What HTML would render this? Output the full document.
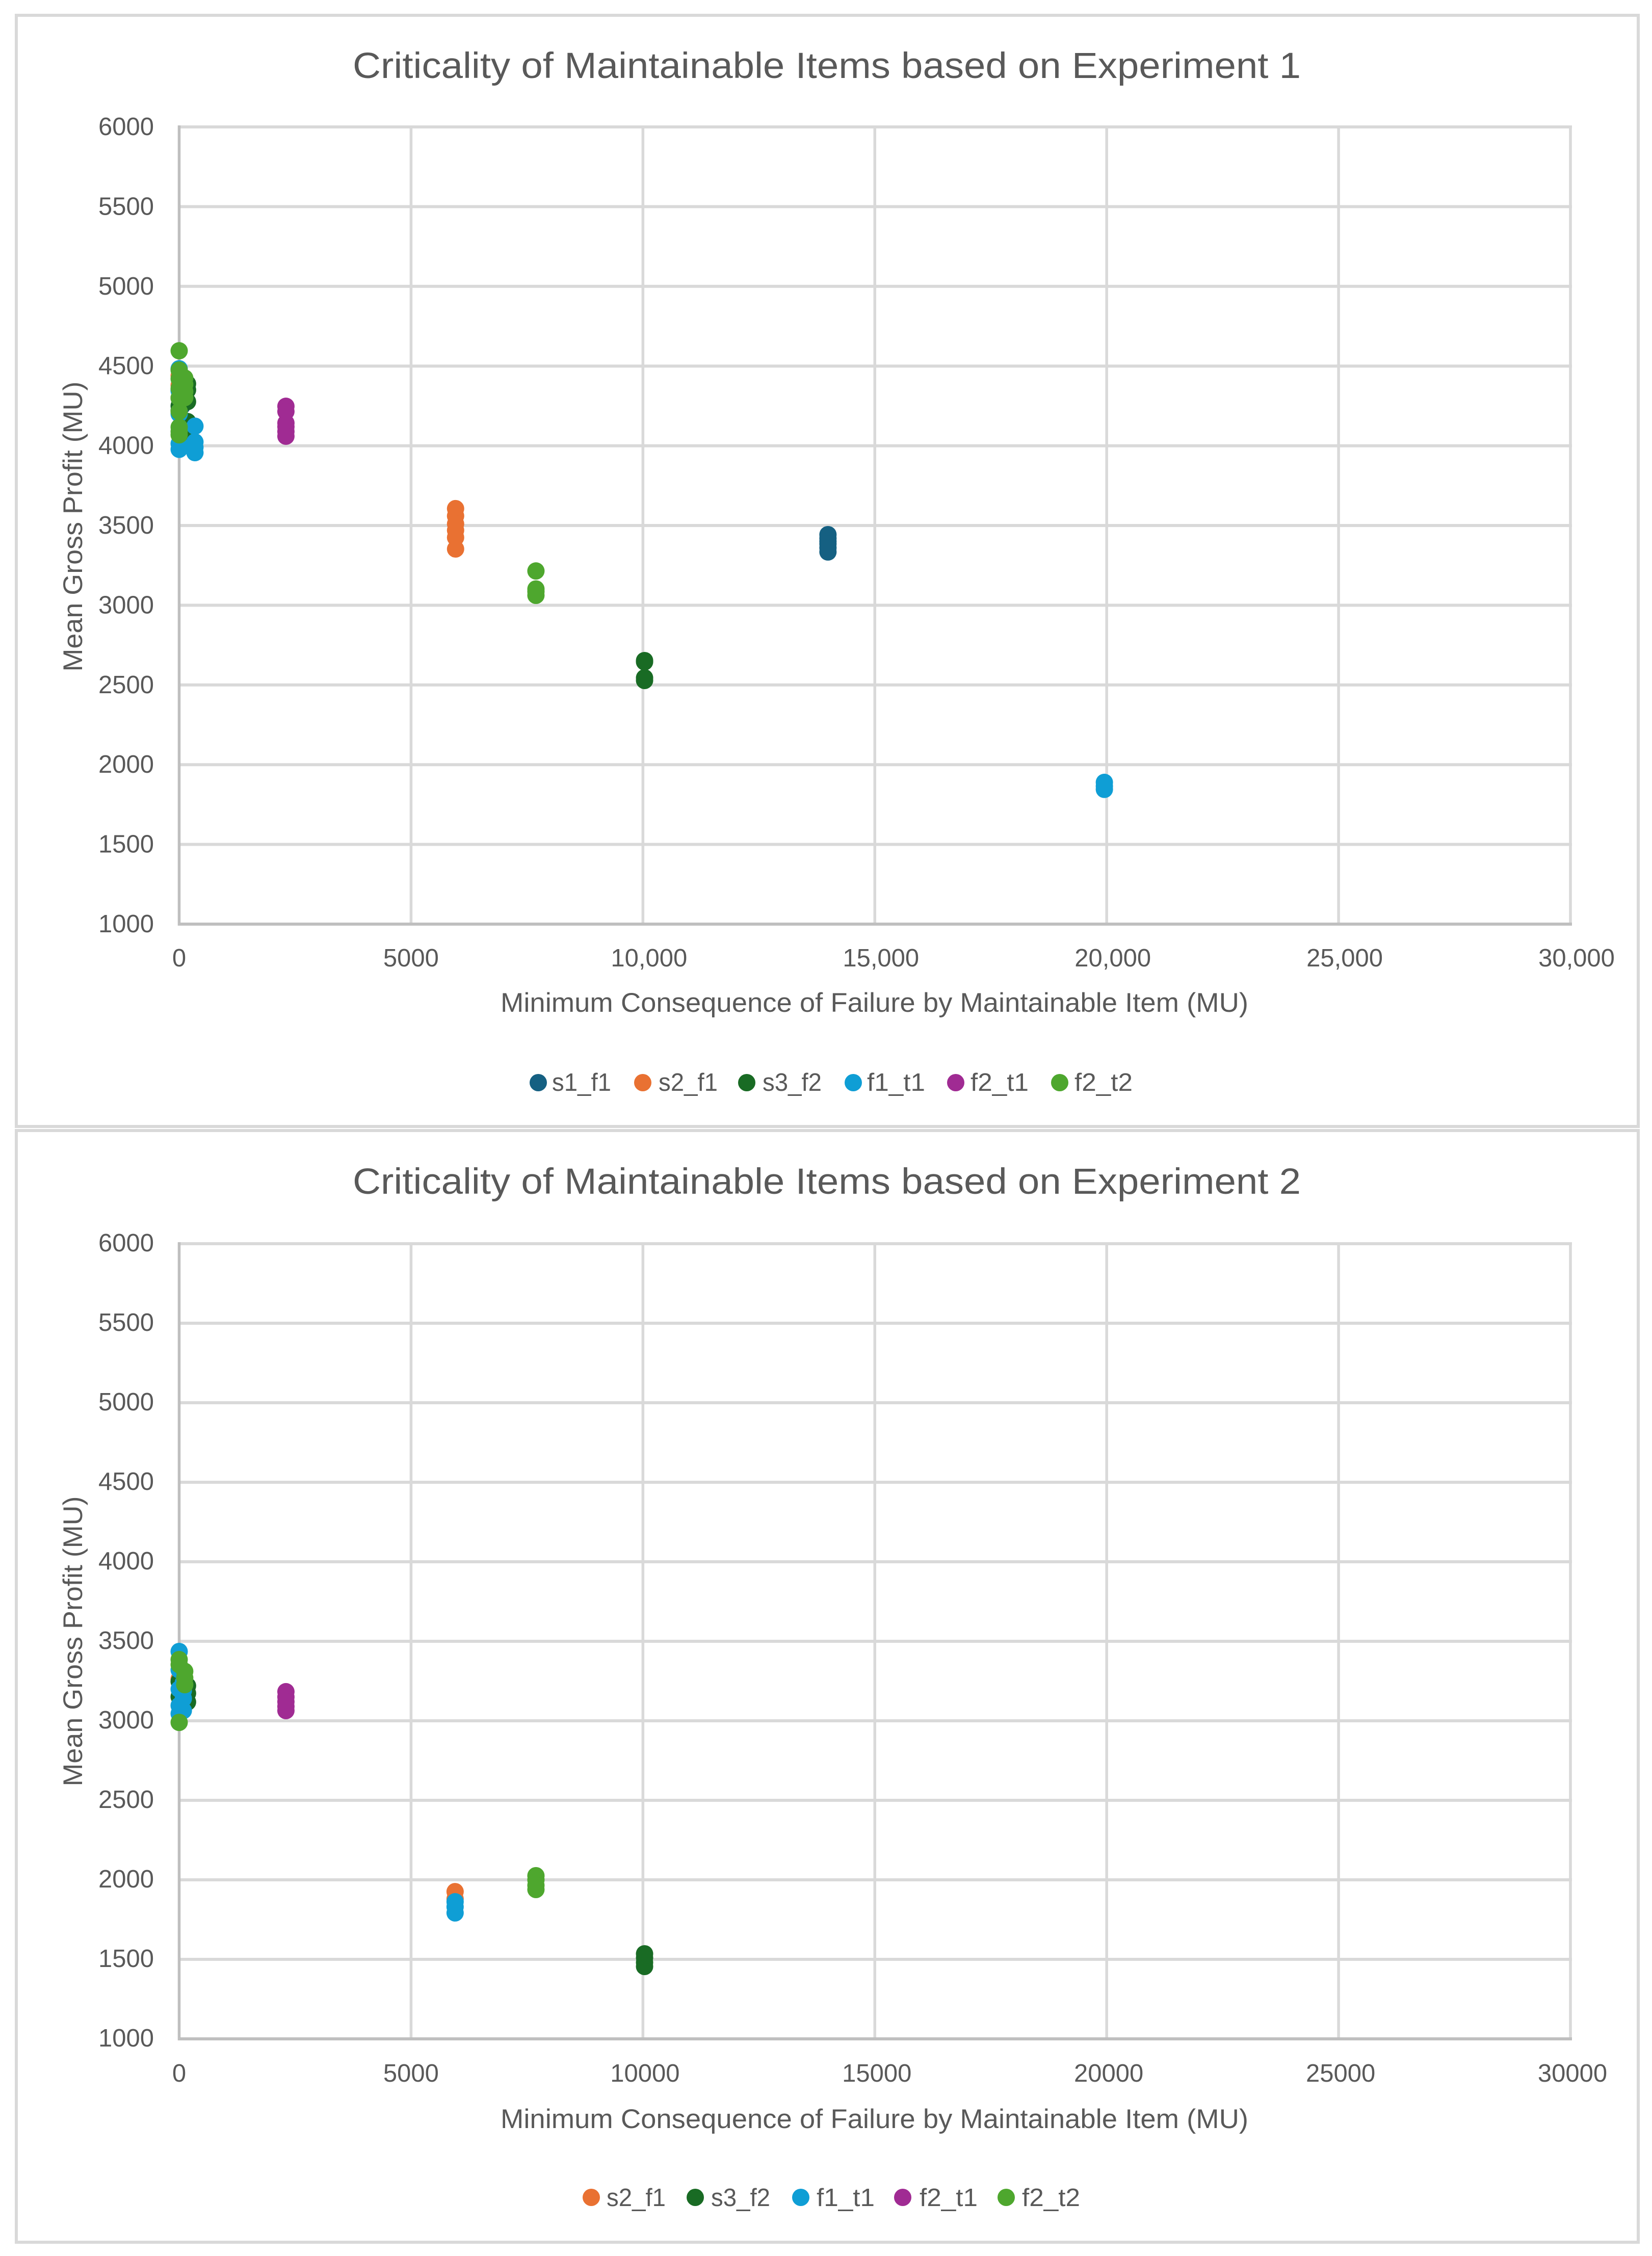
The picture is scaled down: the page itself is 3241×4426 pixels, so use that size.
<!DOCTYPE html>
<html lang="en">
<head>
<meta charset="utf-8">
<title>Criticality of Maintainable Items</title>
<style>
html,body{margin:0;padding:0;background:#fff;}
svg{display:block;}
text{font-family:"Liberation Sans",sans-serif;fill:#595959;}
</style>
</head>
<body>
<svg id="figure" xmlns="http://www.w3.org/2000/svg" width="3241" height="4426" viewBox="0 0 3241 4426">
  <rect x="0" y="0" width="3241" height="4426" fill="#ffffff"/>

  <rect x="32" y="30" width="3182" height="2180" fill="#ffffff" stroke="#d9d9d9" stroke-width="6"/>
  <text x="692" y="153" font-size="71" textLength="1860" lengthAdjust="spacingAndGlyphs">Criticality of Maintainable Items based on Experiment 1</text>
  <g id="chart1-grid"></g>
  <g id="chart1-ticks"></g>
  <text transform="translate(161 1033) rotate(-90)" text-anchor="middle" font-size="53" textLength="569" lengthAdjust="spacingAndGlyphs">Mean Gross Profit (MU)</text>
  <text x="982" y="1985" font-size="53" textLength="1467" lengthAdjust="spacingAndGlyphs">Minimum Consequence of Failure by Maintainable Item (MU)</text>
  <g id="chart1-marks"></g>
  <g>
    <g><circle cx="1056" cy="2124" r="17" fill="#156082"/><text x="1083" y="2140" font-size="49" textLength="116" lengthAdjust="spacingAndGlyphs">s1_f1</text></g>
    <g><circle cx="1261" cy="2124" r="17" fill="#E97132"/><text x="1292" y="2140" font-size="49" textLength="116" lengthAdjust="spacingAndGlyphs">s2_f1</text></g>
    <g><circle cx="1465" cy="2124" r="17" fill="#196B24"/><text x="1496" y="2140" font-size="49" textLength="116" lengthAdjust="spacingAndGlyphs">s3_f2</text></g>
    <g><circle cx="1674" cy="2124" r="17" fill="#0F9ED5"/><text x="1701" y="2140" font-size="49" textLength="114" lengthAdjust="spacingAndGlyphs">f1_t1</text></g>
    <g><circle cx="1875" cy="2124" r="17" fill="#A02B93"/><text x="1904" y="2140" font-size="49" textLength="114" lengthAdjust="spacingAndGlyphs">f2_t1</text></g>
    <g><circle cx="2079" cy="2124" r="17" fill="#4EA72E"/><text x="2108" y="2140" font-size="49" textLength="114" lengthAdjust="spacingAndGlyphs">f2_t2</text></g>
  </g>

  <rect x="32" y="2218" width="3182" height="2181" fill="#ffffff" stroke="#d9d9d9" stroke-width="6"/>
  <text x="692" y="2342" font-size="71" textLength="1860" lengthAdjust="spacingAndGlyphs">Criticality of Maintainable Items based on Experiment 2</text>
  <g id="chart2-grid"></g>
  <g id="chart2-ticks"></g>
  <text transform="translate(161 3220) rotate(-90)" text-anchor="middle" font-size="53" textLength="569" lengthAdjust="spacingAndGlyphs">Mean Gross Profit (MU)</text>
  <text x="982" y="4175" font-size="53" textLength="1467" lengthAdjust="spacingAndGlyphs">Minimum Consequence of Failure by Maintainable Item (MU)</text>
  <g id="chart2-marks"></g>
  <g>
    <g><circle cx="1160" cy="4311" r="17" fill="#E97132"/><text x="1190" y="4328" font-size="49" textLength="116" lengthAdjust="spacingAndGlyphs">s2_f1</text></g>
    <g><circle cx="1364" cy="4311" r="17" fill="#196B24"/><text x="1395" y="4328" font-size="49" textLength="116" lengthAdjust="spacingAndGlyphs">s3_f2</text></g>
    <g><circle cx="1571" cy="4311" r="17" fill="#0F9ED5"/><text x="1602" y="4328" font-size="49" textLength="114" lengthAdjust="spacingAndGlyphs">f1_t1</text></g>
    <g><circle cx="1771" cy="4311" r="17" fill="#A02B93"/><text x="1804" y="4328" font-size="49" textLength="114" lengthAdjust="spacingAndGlyphs">f2_t1</text></g>
    <g><circle cx="1974" cy="4311" r="17" fill="#4EA72E"/><text x="2005" y="4328" font-size="49" textLength="114" lengthAdjust="spacingAndGlyphs">f2_t2</text></g>
  </g>
</svg>

<script>
const yTickValues = [6000, 5500, 5000, 4500, 4000, 3500, 3000, 2500, 2000, 1500, 1000];
const xTickValues = [0, 5000, 10000, 15000, 20000, 25000, 30000];
const xTickLabelsChart1 = ['0', '5000', '10,000', '15,000', '20,000', '25,000', '30,000'];
const xTickLabelsChart2 = ['0', '5000', '10000', '15000', '20000', '25000', '30000'];

const exp1S1F1X = [0, 0, 60, 13990, 13990, 13990, 13990, 13990, 13990];
const exp1S1F1Y = [4350, 4300, 4250, 3443, 3420, 3400, 3385, 3360, 3334];
const exp1S2F1X = [0, 0, 0, 5960, 5960, 5960, 5960, 5960, 5960];
const exp1S2F1Y = [4440, 4380, 4300, 3606, 3560, 3510, 3470, 3425, 3353];
const exp1S3F2X = [0, 0, 100, 180, 180, 180, 180, 10035, 10035, 10035, 10035];
const exp1S3F2Y = [4250, 4220, 4080, 4152, 4389, 4350, 4277, 2653, 2645, 2545, 2528];
const exp1F1T1X = [0, 0, 0, 0, 0, 340, 340, 340, 340, 19950, 19950, 19950];
const exp1F1T1Y = [4483, 4345, 4200, 4013, 3978, 4123, 4024, 3990, 3957, 1889, 1865, 1845];
const exp1F2T1X = [2302, 2302, 2302, 2302, 2302, 2302];
const exp1F2T1Y = [4248, 4215, 4143, 4120, 4090, 4060];
const exp1F2T2X = [0, 0, 0, 0, 0, 0, 0, 0, 0, 120, 120, 120, 120, 7693, 7693, 7693, 7693];
const exp1F2T2Y = [4596, 4475, 4420, 4360, 4300, 4216, 4117, 4090, 4069, 4425, 4385, 4340, 4302, 3215, 3102, 3085, 3062];

const exp2S2F1X = [0, 5950, 5950];
const exp2S2F1Y = [3263, 1926, 1880];
const exp2S3F2X = [0, 0, 180, 180, 180, 10035, 10035, 10035, 10035];
const exp2S3F2Y = [3247, 3151, 3220, 3173, 3118, 1535, 1510, 1480, 1455];
const exp2F1T1X = [0, 0, 0, 0, 0, 90, 90, 90, 90, 5950, 5950, 5950];
const exp2F1T1Y = [3436, 3320, 3199, 3096, 3045, 3240, 3190, 3140, 3064, 1862, 1830, 1792];
const exp2F2T1X = [2302, 2302, 2302, 2302, 2302];
const exp2F2T1Y = [3183, 3150, 3120, 3090, 3064];
const exp2F2T2X = [0, 0, 0, 120, 120, 120, 7693, 7693, 7693, 7693];
const exp2F2T2Y = [3385, 3353, 2990, 3311, 3270, 3227, 2026, 2000, 1965, 1939];

const SVG_NS = 'http://www.w3.org/2000/svg';
const X_LEFT = 351.5;
const X_RIGHT = 3081;
const X_MAX = 30000;
const Y_MIN = 1000;
const Y_MAX = 6000;

function xScale(value) {
  return X_LEFT + (value / X_MAX) * (X_RIGHT - X_LEFT);
}

function yScale(value, plotTop, plotBottom) {
  return plotBottom - ((value - Y_MIN) / (Y_MAX - Y_MIN)) * (plotBottom - plotTop);
}

function drawLine(parent, x1, y1, x2, y2, color, width, name) {
  const line = document.createElementNS(SVG_NS, 'line');
  line.setAttribute('x1', x1);
  line.setAttribute('y1', y1);
  line.setAttribute('x2', x2);
  line.setAttribute('y2', y2);
  line.setAttribute('stroke', color);
  line.setAttribute('stroke-width', width);
  
  
  parent.appendChild(line);
}

function drawLabel(parent, x, y, content, anchor, name) {
  const label = document.createElementNS(SVG_NS, 'text');
  label.setAttribute('x', x);
  label.setAttribute('y', y);
  label.setAttribute('font-size', '49');
  label.setAttribute('text-anchor', anchor);
  
  
  label.textContent = content;
  parent.appendChild(label);
}

function drawAxes(prefix, plotTop, plotBottom, xLabels, xLabelY, yLabelOffset) {
  const grid = document.getElementById(prefix + '-grid');
  const ticks = document.getElementById(prefix + '-ticks');
  yTickValues.forEach(function (value) {
    const y = yScale(value, plotTop, plotBottom);
    if (value !== Y_MIN) {
      drawLine(grid, X_LEFT, y, X_RIGHT + 3, y, '#d9d9d9', 6, 'horizontal-gridline');
    }
    drawLabel(ticks, 302, y + yLabelOffset, String(value), 'end', 'y-tick-label');
  });
  xTickValues.forEach(function (value, i) {
    const x = xScale(value);
    if (value !== 0) {
      drawLine(grid, x, plotTop, x, plotBottom, '#d9d9d9', 5.5, 'vertical-gridline');
    }
    const hasComma = xLabels[i].indexOf(',') >= 0;
    const shift = hasComma ? 12 : (value >= 10000 ? 4 : 0);
    drawLabel(ticks, x + shift, xLabelY, xLabels[i], 'middle', 'x-tick-label');
  });
  drawLine(grid, X_LEFT, plotTop - 3, X_LEFT, plotBottom + 3, '#bfbfbf', 5.5, 'y-axis-line');
  drawLine(grid, X_LEFT, plotBottom, X_RIGHT + 3, plotBottom, '#bfbfbf', 6, 'x-axis-line');
}

function drawSeries(prefix, plotTop, plotBottom, xs, ys, color, name) {
  const marks = document.getElementById(prefix + '-marks');
  const group = document.createElementNS(SVG_NS, 'g');
  
  
  xs.forEach(function (xValue, i) {
    const dot = document.createElementNS(SVG_NS, 'circle');
    dot.setAttribute('cx', xScale(xValue));
    dot.setAttribute('cy', yScale(ys[i], plotTop, plotBottom));
    dot.setAttribute('r', 17);
    dot.setAttribute('fill', color);
    
    
    group.appendChild(dot);
  });
  marks.appendChild(group);
}

drawAxes('chart1', 249, 1813, xTickLabelsChart1, 1896, 16);
drawSeries('chart1', 249, 1813, exp1S1F1X, exp1S1F1Y, '#156082', 'series-s1-f1');
drawSeries('chart1', 249, 1813, exp1S2F1X, exp1S2F1Y, '#E97132', 'series-s2-f1');
drawSeries('chart1', 249, 1813, exp1S3F2X, exp1S3F2Y, '#196B24', 'series-s3-f2');
drawSeries('chart1', 249, 1813, exp1F1T1X, exp1F1T1Y, '#0F9ED5', 'series-f1-t1');
drawSeries('chart1', 249, 1813, exp1F2T1X, exp1F2T1Y, '#A02B93', 'series-f2-t1');
drawSeries('chart1', 249, 1813, exp1F2T2X, exp1F2T2Y, '#4EA72E', 'series-f2-t2');

drawAxes('chart2', 2440, 4000, xTickLabelsChart2, 4084, 15);
drawSeries('chart2', 2440, 4000, exp2S2F1X, exp2S2F1Y, '#E97132', 'series-s2-f1');
drawSeries('chart2', 2440, 4000, exp2S3F2X, exp2S3F2Y, '#196B24', 'series-s3-f2');
drawSeries('chart2', 2440, 4000, exp2F1T1X, exp2F1T1Y, '#0F9ED5', 'series-f1-t1');
drawSeries('chart2', 2440, 4000, exp2F2T1X, exp2F2T1Y, '#A02B93', 'series-f2-t1');
drawSeries('chart2', 2440, 4000, exp2F2T2X, exp2F2T2Y, '#4EA72E', 'series-f2-t2');
</script>
</body>
</html>
